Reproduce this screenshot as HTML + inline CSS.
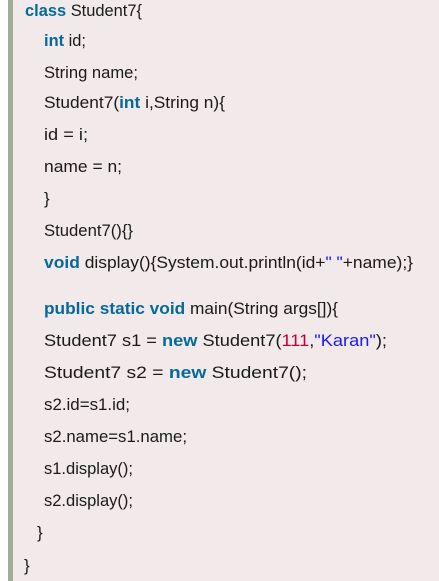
<!DOCTYPE html>
<html><head><style>
html,body{margin:0;padding:0;background:#fff;width:439px;height:581px;overflow:hidden}
svg{display:block}
text{font-family:"Liberation Sans",sans-serif;font-size:17px;fill:#1a1a1a}
.k{fill:#06699a;font-weight:bold}
.n{fill:#c0003a}
.s{fill:#1a1af0}
</style></head><body>
<svg width="439" height="581" xmlns="http://www.w3.org/2000/svg">
<rect x="13" y="0" width="426" height="581" fill="#f2e9ea"/>
<rect x="8" y="0" width="5" height="581" fill="#a1ab98"/>
<text x="25" y="16" textLength="117" lengthAdjust="spacingAndGlyphs"><tspan class="k">class</tspan> Student7{</text>
<text x="44" y="46" textLength="42" lengthAdjust="spacingAndGlyphs"><tspan class="k">int</tspan> id;</text>
<text x="44" y="78" textLength="94" lengthAdjust="spacingAndGlyphs">String name;</text>
<text x="44" y="108" textLength="181" lengthAdjust="spacingAndGlyphs">Student7(<tspan class="k">int</tspan> i,String n){</text>
<text x="44" y="140" textLength="44" lengthAdjust="spacingAndGlyphs">id = i;</text>
<text x="44" y="172" textLength="78" lengthAdjust="spacingAndGlyphs">name = n;</text>
<text x="44" y="204">}</text>
<text x="44" y="236" textLength="89" lengthAdjust="spacingAndGlyphs">Student7(){}</text>
<text x="44" y="268" textLength="369" lengthAdjust="spacingAndGlyphs"><tspan class="k">void</tspan> display(){System.out.println(id+<tspan class="s">" "</tspan>+name);}</text>
<text x="44" y="314" textLength="294" lengthAdjust="spacingAndGlyphs"><tspan class="k">public static void</tspan> main(String args[]){</text>
<text x="44" y="346" textLength="343" lengthAdjust="spacingAndGlyphs">Student7 s1 = <tspan class="k">new</tspan> Student7(<tspan class="n">111</tspan>,<tspan class="s">"Karan"</tspan>);</text>
<text x="44" y="378" textLength="263" lengthAdjust="spacingAndGlyphs">Student7 s2 = <tspan class="k">new</tspan> Student7();</text>
<text x="44" y="410" textLength="86" lengthAdjust="spacingAndGlyphs">s2.id=s1.id;</text>
<text x="44" y="442" textLength="143" lengthAdjust="spacingAndGlyphs">s2.name=s1.name;</text>
<text x="44" y="474" textLength="89" lengthAdjust="spacingAndGlyphs">s1.display();</text>
<text x="44" y="506" textLength="89" lengthAdjust="spacingAndGlyphs">s2.display();</text>
<text x="37" y="538">}</text>
<text x="24" y="571">}</text>
</svg>
</body></html>
